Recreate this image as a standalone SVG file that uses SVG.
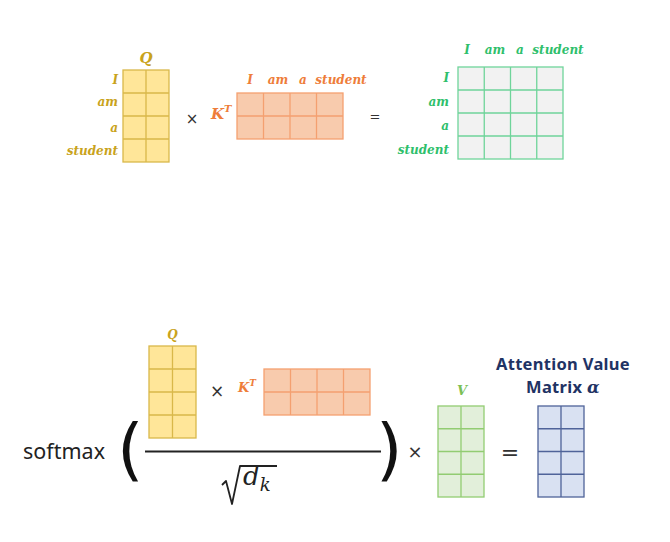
<svg xmlns="http://www.w3.org/2000/svg" width="670" height="542" viewBox="0 0 670 542">
<style>
.lbl{font-family:"DejaVu Serif","Liberation Serif",serif;font-style:italic;font-weight:bold;}
.q{fill:#ffe699;stroke:#d9b84a;stroke-width:1.3}
.ql{stroke:#d9b84a;stroke-width:1.3}
.k{fill:#f8cbad;stroke:#f4a070;stroke-width:1.3}
.kl{stroke:#f4a070;stroke-width:1.3}
.g{fill:#f2f2f2;stroke:#6fd49a;stroke-width:1.3}
.gl{stroke:#6fd49a;stroke-width:1.3}
.v{fill:#e2efda;stroke:#92cc72;stroke-width:1.3}
.vl{stroke:#92cc72;stroke-width:1.3}
.b{fill:#d9e1f2;stroke:#4f6399;stroke-width:1.3}
.bl{stroke:#4f6399;stroke-width:1.3}
.qt{fill:#c9a31c}
.kt{fill:#ee7d3a}
.gt{fill:#2fbf6c}
.op{font-family:"DejaVu Sans",sans-serif;fill:#333}
.at{font-family:"Noto Sans","DejaVu Sans",sans-serif;font-weight:bold;font-size:16.5px;letter-spacing:0.3px;fill:#1f3364}
</style>
<rect width="670" height="542" fill="#ffffff"/>

<!-- Top Q -->
<g id="topQ">
<rect class="q" x="123" y="70" width="46" height="92"/>
<path class="ql" d="M146 70V162M123 93H169M123 116H169M123 139H169"/>
<text class="lbl qt" x="146" y="63" font-size="15" text-anchor="middle">Q</text>
<g class="lbl qt" font-size="12" text-anchor="end">
<text x="118" y="84">I</text>
<text x="118" y="106">am</text>
<text x="118" y="132">a</text>
<text x="118" y="155">student</text>
</g>
</g>

<text class="op" x="192" y="124" font-size="15" text-anchor="middle">×</text>

<!-- Top K^T -->
<g id="topK">
<rect class="k" x="237" y="93" width="106" height="46"/>
<path class="kl" d="M263.5 93V139M290 93V139M316.5 93V139M237 116H343"/>
<text class="lbl kt" x="211" y="119" font-size="15">K<tspan font-size="10" dy="-7">T</tspan></text>
<g class="lbl kt" font-size="12" text-anchor="middle">
<text x="250" y="84">I</text>
<text x="278" y="84">am</text>
<text x="303" y="84">a</text>
<text x="341" y="84">student</text>
</g>
</g>

<text class="op" x="375" y="121" font-size="13" text-anchor="middle">=</text>

<!-- Top result -->
<g id="topResult">
<rect class="g" x="458" y="67" width="105" height="92"/>
<path class="gl" d="M484.25 67V159M510.5 67V159M536.75 67V159M458 90H563M458 113H563M458 136H563"/>
<g class="lbl gt" font-size="12" text-anchor="middle">
<text x="467" y="54">I</text>
<text x="495" y="54">am</text>
<text x="520" y="54">a</text>
<text x="558" y="54">student</text>
</g>
<g class="lbl gt" font-size="12" text-anchor="end">
<text x="449" y="82">I</text>
<text x="449" y="106">am</text>
<text x="449" y="130">a</text>
<text x="449" y="154">student</text>
</g>
</g>

<!-- Bottom formula -->
<text x="23" y="459" font-family="Noto Sans, DejaVu Sans, sans-serif" font-size="21.5" fill="#222">softmax</text>
<text x="117" y="473" font-family="DejaVu Sans, sans-serif" font-size="68" fill="#111">(</text>
<text x="376" y="473" font-family="DejaVu Sans, sans-serif" font-size="68" fill="#111">)</text>

<g id="botQ">
<rect class="q" x="149" y="346" width="47" height="92"/>
<path class="ql" d="M172.5 346V438M149 369H196M149 392H196M149 415H196"/>
<text class="lbl qt" x="172.5" y="339" font-size="12" text-anchor="middle">Q</text>
</g>

<text class="op" x="217" y="397" font-size="17" text-anchor="middle">×</text>

<g id="botK">
<rect class="k" x="264" y="369" width="106" height="46"/>
<path class="kl" d="M290.5 369V415M317 369V415M343.5 369V415M264 392H370"/>
<text class="lbl kt" x="238" y="392" font-size="13">K<tspan font-size="9" dy="-6">T</tspan></text>
</g>

<line x1="145" y1="451.5" x2="381" y2="451.5" stroke="#222" stroke-width="2"/>

<g id="sqrt">
<path d="M222 485L226 481L232 504L240 466H277" fill="none" stroke="#222" stroke-width="1.8" stroke-linejoin="round"/>
<text x="243" y="485" font-family="DejaVu Serif, serif" font-style="italic" font-size="26" fill="#222">d<tspan font-size="18" dy="6">k</tspan></text>
</g>

<text class="op" x="415" y="458" font-size="18" text-anchor="middle">×</text>

<g id="V">
<rect class="v" x="438" y="406" width="46" height="91"/>
<path class="vl" d="M461 406V497M438 428.75H484M438 451.5H484M438 474.25H484"/>
<text class="lbl" x="462" y="395" font-size="13" fill="#7cbf56" text-anchor="middle">V</text>
</g>

<text class="op" x="510" y="460" font-size="22" text-anchor="middle" fill="#222">=</text>

<g id="attn">
<rect class="b" x="538" y="406" width="46" height="91"/>
<path class="bl" d="M561 406V497M538 428.75H584M538 451.5H584M538 474.25H584"/>
<text class="at" x="563" y="370" text-anchor="middle">Attention Value</text>
<text class="at" x="563" y="393" text-anchor="middle">Matrix <tspan font-family="DejaVu Serif, serif" font-style="italic">α</tspan></text>
</g>
</svg>
